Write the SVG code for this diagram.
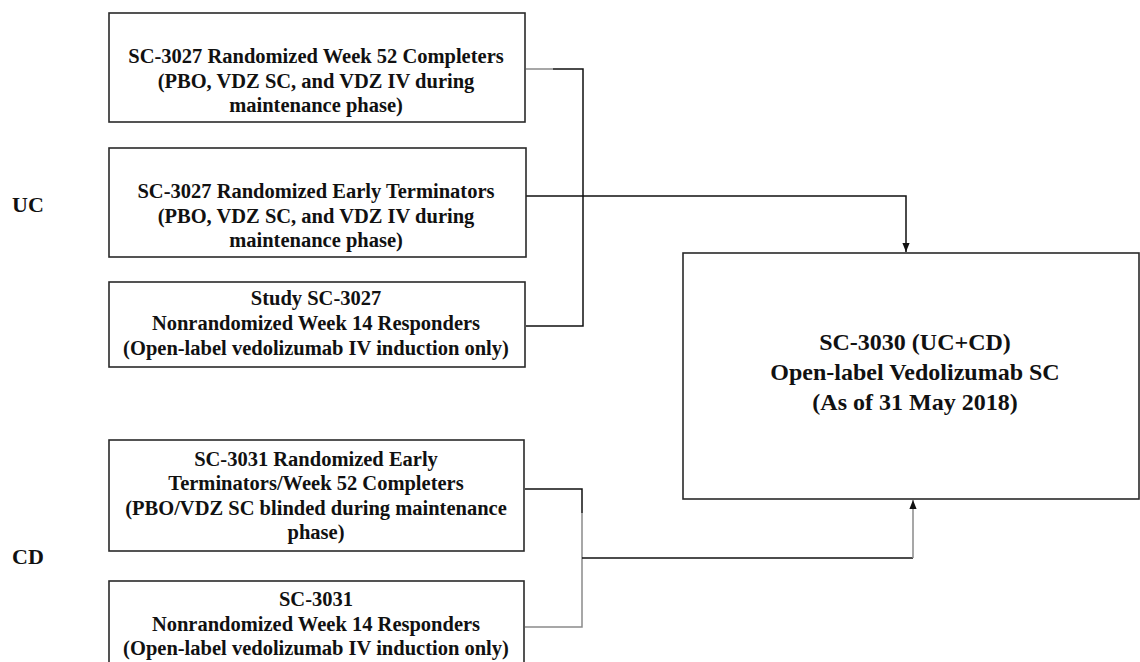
<svg xmlns="http://www.w3.org/2000/svg" width="1140" height="662" viewBox="0 0 1140 662">
<style>
.box{fill:#fff;stroke:#2a2a2a;stroke-width:1.6}
.t{font-family:"Liberation Serif","Times New Roman",serif;font-weight:bold;font-size:20.5px;fill:#111;text-anchor:middle}
.big{font-size:24px}
.lab{font-family:"Liberation Serif","Times New Roman",serif;font-weight:bold;font-size:22px;fill:#111}
.c{fill:none;stroke:#111;stroke-width:1.5}
.g{fill:none;stroke:#8a8a8a;stroke-width:1.5}
</style>
<defs>
<marker id="ah" viewBox="0 0 10 10" refX="10" refY="5" markerWidth="5" markerHeight="5" orient="auto" markerUnits="userSpaceOnUse">
<path d="M0,0 L10,5 L0,10 Z" fill="#111"/>
</marker>
<marker id="ah2" viewBox="0 0 10 10" refX="10" refY="5" markerWidth="9" markerHeight="9" orient="auto" markerUnits="userSpaceOnUse">
<path d="M0,1 L10,5 L0,9 Z" fill="#111"/>
</marker>
</defs>
<text class="lab" x="12" y="212">UC</text>
<text class="lab" x="12" y="564">CD</text>
<g id="connectors">
<path class="g" d="M526,69 H553"/>
<path class="c" d="M553,69 H583 V326 H526"/>
<path class="c" d="M526,196 H906 V252" marker-end="url(#ah2)"/>
<path class="c" d="M525,489 H582 V513"/>
<path class="g" d="M582,513 V627 H525"/>
<path class="c" d="M582,558 H913"/>
<path class="g" d="M913,558 V500" marker-end="url(#ah2)"/>
</g>
<g id="n1">
<rect class="box" x="109" y="13" width="416" height="109"/>
<text class="t" x="316" y="63">SC-3027 Randomized  Week 52 Completers</text>
<text class="t" x="316" y="88">(PBO, VDZ SC, and VDZ IV during</text>
<text class="t" x="316" y="112">maintenance  phase)</text>
</g>
<g id="n2">
<rect class="box" x="109" y="148" width="417" height="109"/>
<text class="t" x="316" y="198">SC-3027 Randomized  Early Terminators</text>
<text class="t" x="316" y="223">(PBO, VDZ SC, and VDZ IV during</text>
<text class="t" x="316" y="247">maintenance  phase)</text>
</g>
<g id="n3">
<rect class="box" x="109" y="282" width="416" height="85"/>
<text class="t" x="316" y="305">Study SC-3027</text>
<text class="t" x="316" y="330">Nonrandomized Week 14 Responders</text>
<text class="t" x="316" y="355">(Open-label vedolizumab IV induction  only)</text>
</g>
<g id="n4">
<rect class="box" x="109" y="440" width="415" height="111"/>
<text class="t" x="316" y="466">SC-3031 Randomized  Early</text>
<text class="t" x="316" y="490">Terminators/Week 52 Completers</text>
<text class="t" x="316" y="515">(PBO/VDZ SC blinded  during  maintenance</text>
<text class="t" x="316" y="539">phase)</text>
</g>
<g id="n5">
<rect class="box" x="109" y="581" width="415" height="84"/>
<text class="t" x="316" y="606">SC-3031</text>
<text class="t" x="316" y="631">Nonrandomized Week 14 Responders</text>
<text class="t" x="316" y="655">(Open-label vedolizumab IV induction  only)</text>
</g>
<g id="n6">
<rect class="box" x="683" y="253" width="456" height="246"/>
<text class="t big" x="915" y="350">SC-3030 (UC+CD)</text>
<text class="t big" x="915" y="380">Open-label Vedolizumab  SC</text>
<text class="t big" x="915" y="410">(As of 31 May 2018)</text>
</g>
</svg>
